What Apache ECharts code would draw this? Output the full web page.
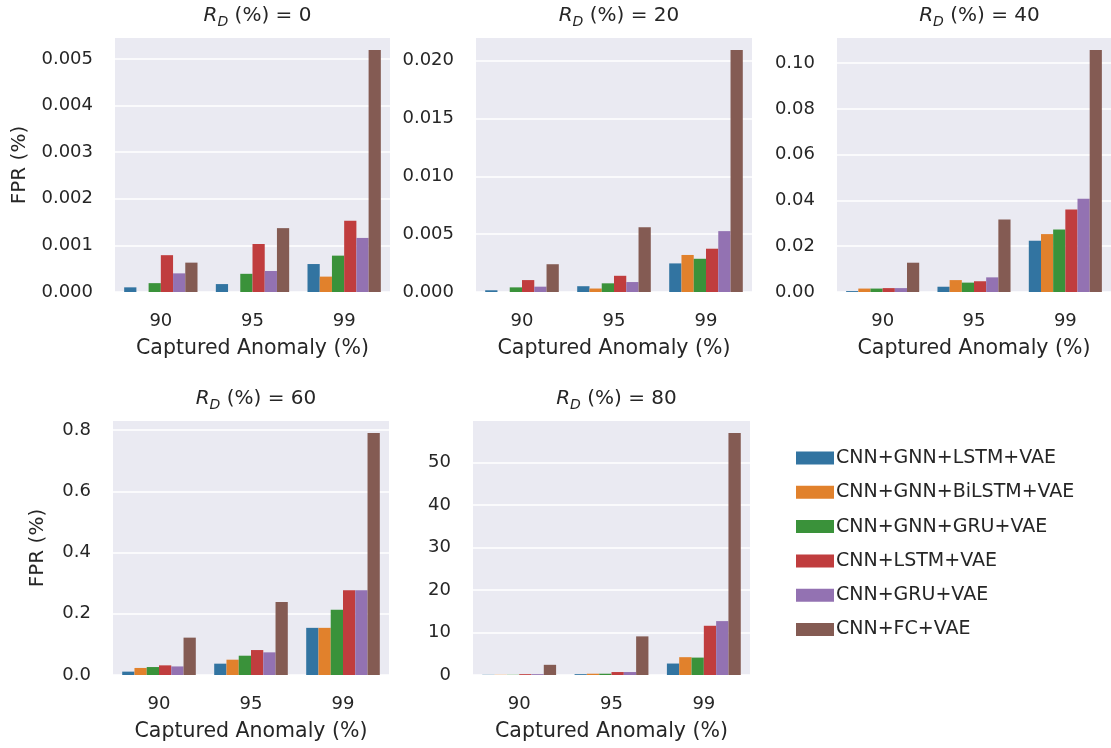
<!DOCTYPE html>
<html>
<head>
<meta charset="utf-8">
<script src="https://cdn.jsdelivr.net/npm/echarts@6/dist/echarts.min.js"></script>
<style>
html,body{margin:0;padding:0;background:#fff;}
#chart{width:1111px;height:748px;}
</style>
</head>
<body>
<div id="chart"></div>
<script>
const categories = ['90', '95', '99'];
const models = ['CNN+GNN+LSTM+VAE', 'CNN+GNN+BiLSTM+VAE', 'CNN+GNN+GRU+VAE', 'CNN+LSTM+VAE', 'CNN+GRU+VAE', 'CNN+FC+VAE'];
const rdValues = ['0', '20', '40', '60', '80'];
const colors = ['#3274a1', '#e1812c', '#3a923a', '#c03d3e', '#9372b2', '#845b53'];

// FPR (%) per model (rows) at captured anomaly 90/95/99 (columns)
const fprRd0 = [
  [0.0001, 0.00017, 0.0006],
  [0, 0, 0.00033],
  [0.00019, 0.00039, 0.00078],
  [0.00079, 0.00103, 0.00153],
  [0.0004, 0.00045, 0.00116],
  [0.00063, 0.00137, 0.00519]
];
const fprRd20 = [
  [0.00015, 0.0005, 0.00247],
  [0, 0.0003, 0.0032],
  [0.0004, 0.00075, 0.00287],
  [0.00103, 0.0014, 0.00374],
  [0.00046, 0.00086, 0.00526],
  [0.0024, 0.0056, 0.0209]
];
const fprRd40 = [
  [0.0004, 0.0023, 0.0224],
  [0.0015, 0.0052, 0.0253],
  [0.0015, 0.0041, 0.0273],
  [0.0017, 0.0047, 0.036],
  [0.0017, 0.0064, 0.0407],
  [0.0128, 0.0317, 0.1057]
];
const fprRd60 = [
  [0.011, 0.037, 0.154],
  [0.023, 0.05, 0.154],
  [0.026, 0.063, 0.213],
  [0.0315, 0.0815, 0.277],
  [0.028, 0.074, 0.277],
  [0.122, 0.238, 0.79]
];
const fprRd80 = [
  [0.05, 0.2, 2.7],
  [0.05, 0.3, 4.2],
  [0.05, 0.3, 4.1],
  [0.2, 0.7, 11.6],
  [0.2, 0.7, 12.7],
  [2.4, 9.1, 57.0]
];
const yTickInterval = [0.001, 0.005, 0.02, 0.2, 10];
const yTickDecimals = [3, 3, 2, 1, 0];

const panels = [fprRd0, fprRd20, fprRd40, fprRd60, fprRd80];
const grids = [
  {left: 115, top: 38, width: 275, height: 254},
  {left: 476, top: 38, width: 276, height: 254},
  {left: 837, top: 38, width: 275, height: 254},
  {left: 113, top: 421, width: 276, height: 254},
  {left: 473, top: 421, width: 277, height: 254}
];
const yNameGap = [85, null, null, 65, null];

const FONT = 'DejaVu Sans';
const TXT = '#262626';

const option = {
  animation: false,
  backgroundColor: '#ffffff',
  textStyle: {fontFamily: FONT, color: TXT},
  title: grids.map((g, i) => ({
    text: '{r|R}{d|D}{t| (%) = ' + rdValues[i] + '}',
    left: g.left + g.width / 2,
    top: g.top - 40,
    textAlign: 'center',
    textStyle: {
      fontWeight: 'normal',
      rich: {
        r: {fontFamily: FONT, fontStyle: 'italic', fontWeight: 'normal', fontSize: 20, color: TXT, lineHeight: 26, verticalAlign: 'middle'},
        d: {fontFamily: FONT, fontStyle: 'italic', fontWeight: 'normal', fontSize: 14, color: TXT, lineHeight: 26, verticalAlign: 'bottom'},
        t: {fontFamily: FONT, fontWeight: 'normal', fontSize: 20, color: TXT, lineHeight: 26, verticalAlign: 'middle'}
      }
    }
  })),
  legend: {
    orient: 'vertical',
    left: 796,
    top: 448,
    padding: 0,
    icon: 'rect',
    itemWidth: 38,
    itemHeight: 13,
    itemGap: 14.3,
    data: models,
    textStyle: {fontFamily: FONT, fontSize: 19, color: TXT, lineHeight: 20, padding: [0, 0, 0, -3]}
  },
  grid: grids.map(g => Object.assign({show: true, backgroundColor: '#eaeaf2', borderWidth: 0, containLabel: false}, g)),
  xAxis: grids.map((g, i) => ({
    type: 'category',
    gridIndex: i,
    data: categories,
    name: 'Captured Anomaly (%)',
    nameLocation: 'middle',
    nameGap: 46,
    nameTextStyle: {fontFamily: FONT, fontSize: 20.5, color: TXT},
    axisLine: {show: false},
    axisTick: {show: false},
    axisLabel: {fontFamily: FONT, fontSize: 18, color: TXT, margin: 20},
    splitLine: {show: false}
  })),
  yAxis: grids.map((g, i) => ({
    type: 'value',
    gridIndex: i,
    min: 0,
    max: v => v.max * 1.05,
    interval: yTickInterval[i],
    name: yNameGap[i] ? 'FPR (%)' : '',
    nameLocation: 'middle',
    nameGap: yNameGap[i] || 0,
    nameTextStyle: {fontFamily: FONT, fontSize: 20, color: TXT},
    axisLine: {show: false},
    axisTick: {show: false},
    axisLabel: {
      fontFamily: FONT, fontSize: 18, color: TXT, margin: 22,
      showMaxLabel: false,
      formatter: val => {
        const k = Math.round(val / yTickInterval[i]);
        if (Math.abs(val - k * yTickInterval[i]) > yTickInterval[i] * 1e-6) return '';
        return (k * yTickInterval[i]).toFixed(yTickDecimals[i]);
      }
    },
    splitLine: {show: true, showMaxLine: false, lineStyle: {color: '#ffffff', width: 1.5}}
  })),
  series: []
};

panels.forEach((panel, p) => {
  panel.forEach((vals, m) => {
    option.series.push({
      type: 'bar',
      name: models[m],
      xAxisIndex: p,
      yAxisIndex: p,
      data: vals,
      barGap: '0%',
      barCategoryGap: '20%',
      itemStyle: {color: colors[m]},
      emphasis: {disabled: true}
    });
  });
});

const chart = echarts.init(document.getElementById('chart'), null, {renderer: 'canvas'});
chart.setOption(option);
</script>
</body>
</html>
